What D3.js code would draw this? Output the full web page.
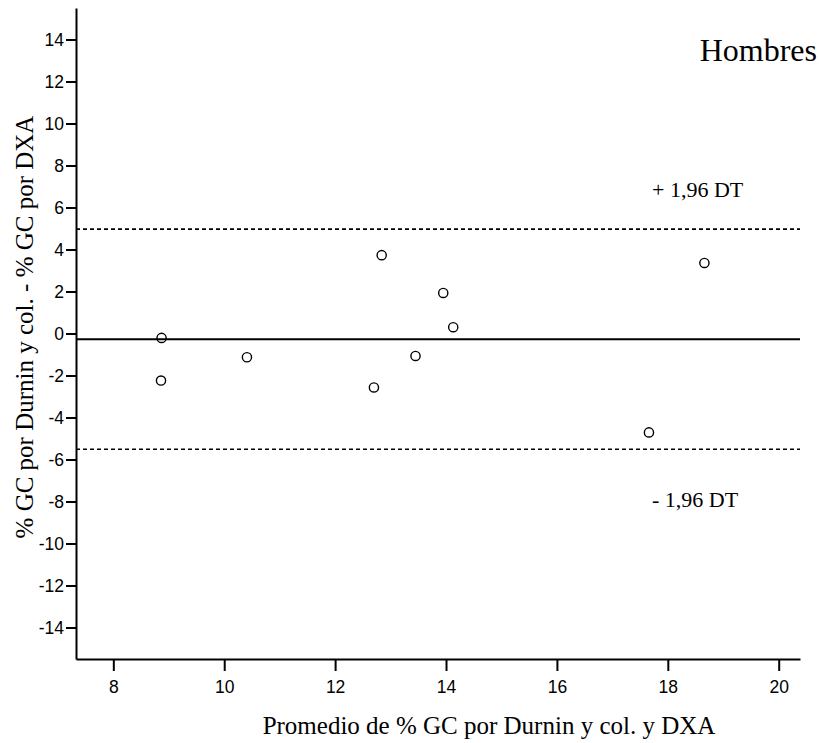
<!DOCTYPE html>
<html><head><meta charset="utf-8">
<script src="https://cdn.jsdelivr.net/npm/d3@7"></script>
<style>body{margin:0;background:#fff}svg{display:block}</style>
</head><body>
<script>
const avgValues  = [8.87, 8.86, 10.41, 12.84, 12.70, 13.95, 14.13, 13.45, 18.66, 17.66];
const diffValues = [-0.21, -2.24, -1.13, 3.73, -2.57, 1.93, 0.30, -1.07, 3.36, -4.71];
const meanDiff = -0.27;
const upperLimit = 4.97;
const lowerLimit = -5.51;
const xTicks = [8, 10, 12, 14, 16, 18, 20];
const yTicks = [-14, -12, -10, -8, -6, -4, -2, 0, 2, 4, 6, 8, 10, 12, 14];
const xDomain = [7.327, 20.384];
const yDomain = [-15.5, 15.5];

const W = 819, H = 743;
const L = 76, R = 800, T = 8, B = 659;
const svg = d3.select("body").append("svg").attr("width", W).attr("height", H);

const x = d3.scaleLinear().domain(xDomain).range([L, R]);
const y = d3.scaleLinear().domain(yDomain).range([B, T]);

const tickFont = "'Liberation Sans', Arial, sans-serif";
const serif = "'Liberation Serif', 'Times New Roman', serif";

const gx = svg.append("g").attr("transform", `translate(0,${B})`)
  .call(d3.axisBottom(x).tickValues(xTicks).tickSize(12).tickSizeOuter(0).tickPadding(10).tickFormat(d3.format("d")));
const gy = svg.append("g").attr("transform", `translate(${L},0)`)
  .call(d3.axisLeft(y).tickValues(yTicks).tickSize(10).tickSizeOuter(0).tickPadding(2).tickFormat(d => d < 0 ? "-" + Math.abs(d) : String(d)));
[gx, gy].forEach(g => {
  g.select(".domain").attr("stroke", "#000").attr("stroke-width", 2);
  g.selectAll(".tick line").attr("stroke", "#000").attr("stroke-width", 2);
  g.selectAll(".tick text").attr("fill", "#000").style("font-family", tickFont).style("font-size", "17.5px");
});

// reference lines
svg.append("line").attr("x1", L).attr("x2", R).attr("y1", y(meanDiff)).attr("y2", y(meanDiff))
  .attr("stroke", "#000").attr("stroke-width", 2);
[upperLimit, lowerLimit].forEach(v => {
  svg.append("line").attr("x1", L).attr("x2", R).attr("y1", y(v)).attr("y2", y(v))
    .attr("stroke", "#000").attr("stroke-width", 1.6).attr("stroke-dasharray", "4,3");
});

// points
svg.append("g").selectAll("circle").data(avgValues.map((a, i) => [a, diffValues[i]]))
  .join("circle").attr("cx", d => x(d[0])).attr("cy", d => y(d[1])).attr("r", 4.6)
  .attr("fill", "none").attr("stroke", "#000").attr("stroke-width", 1.4);

// texts
svg.append("text").attr("x", 817).attr("y", 61).attr("text-anchor", "end")
  .style("font-family", serif).style("font-size", "32px").text("Hombres");
svg.append("text").attr("x", 652).attr("y", y(upperLimit) - 32).attr("text-anchor", "start")
  .style("font-family", serif).style("font-size", "22px").text("+ 1,96 DT");
svg.append("text").attr("x", 652).attr("y", y(lowerLimit) + 58).attr("text-anchor", "start")
  .style("font-family", serif).style("font-size", "22px").text("- 1,96 DT");

svg.append("text").attr("x", 489).attr("y", 734).attr("text-anchor", "middle")
  .style("font-family", serif).style("font-size", "25px").text("Promedio de % GC por Durnin y col. y DXA");
svg.append("text").attr("transform", `translate(33,327) rotate(-90)`).attr("text-anchor", "middle")
  .style("font-family", serif).style("font-size", "25px").text("% GC por Durnin y col. - % GC por DXA");
</script>
</body></html>
